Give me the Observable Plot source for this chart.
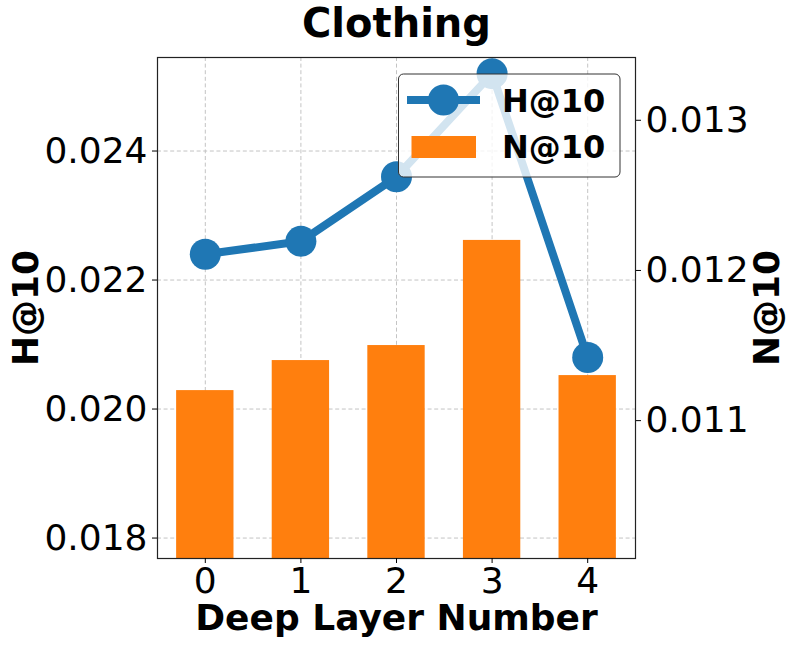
<!DOCTYPE html>
<html>
<head>
<meta charset="utf-8">
<script src="https://cdn.jsdelivr.net/npm/d3@7"></script>
<script src="https://cdn.jsdelivr.net/npm/@observablehq/plot@0.6"></script>
<style>
  body { margin: 0; background: white; }
  #wrap { position: relative; width: 793px; height: 647px; font-family: "DejaVu Sans", sans-serif; }
  #wrap > svg { position: absolute; left: 0; top: 0; }
</style>
</head>
<body>
<div id="wrap"></div>
<script>
// ---- data ----
const layers = [0, 1, 2, 3, 4];
const h10 = [0.0224, 0.0226, 0.0236, 0.0252, 0.0208];
const n10 = [0.0112, 0.0114, 0.0115, 0.0122, 0.0113];
const hTicks = [0.018, 0.020, 0.022, 0.024];
const nTicks = [0.011, 0.012, 0.013];
const title = "Clothing";
const xLabel = "Deep Layer Number";
const hLabel = "H@10";
const nLabel = "N@10";

const data = layers.map((l, i) => ({layer: l, h: h10[i], n: n10[i]}));

const blue = "#1f77b4", orange = "#ff7f0e";
const W = 793, H = 647;
const common = {
  width: W, height: H,
  marginLeft: 157, marginRight: 158, marginTop: 57, marginBottom: 89,
  x: {type: "linear", domain: [-0.5, 4.5], axis: null},
  style: {background: "transparent", fontFamily: "DejaVu Sans, sans-serif", overflow: "visible"}
};
const hDomain = [0.017683, 0.02545];
const nDomain = [0.010082, 0.013418];
const fmt = d3.format(".3f");

// Layer 1: grid
const grid = Plot.plot({
  ...common,
  y: {domain: hDomain, axis: null},
  marks: [
    Plot.ruleY(hTicks, {stroke: "#c4c4c4", strokeWidth: 1, strokeDasharray: "4,2.6"}),
    Plot.ruleX(layers, {stroke: "#c4c4c4", strokeWidth: 1, strokeDasharray: "4,2.6"})
  ]
});

// Layer 2: bars (N@10, right axis)
const bars = Plot.plot({
  ...common,
  y: {domain: nDomain, axis: null},
  marks: [
    Plot.rectY(data, {x1: d => d.layer - 0.3, x2: d => d.layer + 0.3, y: "n", fill: orange, clip: true}),
    Plot.axisY(nTicks, {anchor: "right", tickSize: 5, tickPadding: 5, tickFormat: fmt, fontSize: 36, label: null}),
    Plot.text([nLabel], {frameAnchor: "right", dx: 143, rotate: -90, textAnchor: "middle", lineAnchor: "bottom", fontSize: 36, fontWeight: "bold", fill: "black"})
  ]
});

// Layer 3: line (H@10, left axis), frame, texts
const lines = Plot.plot({
  ...common,
  y: {domain: hDomain, axis: null},
  marks: [
    Plot.line(data, {x: "layer", y: "h", stroke: blue, strokeWidth: 8}),
    Plot.dot(data, {x: "layer", y: "h", r: 15.5, fill: blue, stroke: "none"}),
    Plot.frame({stroke: "#222", strokeWidth: 1.2}),
    Plot.axisY(hTicks, {anchor: "left", tickSize: 5, tickPadding: 5, tickFormat: fmt, fontSize: 36, label: null}),
    Plot.axisX(layers, {anchor: "bottom", tickSize: 5, tickPadding: 4, tickFormat: d => String(d), fontSize: 36, label: null}),
    Plot.text([title], {frameAnchor: "top", dy: -21, lineAnchor: "bottom", fontSize: 40, fontWeight: "bold", fill: "black"}),
    Plot.text([xLabel], {frameAnchor: "bottom", dy: 71, lineAnchor: "bottom", fontSize: 36, fontWeight: "bold", fill: "black"}),
    Plot.text([hLabel], {frameAnchor: "left", dx: -120, rotate: -90, textAnchor: "middle", lineAnchor: "bottom", fontSize: 36, fontWeight: "bold", fill: "black"})
  ]
});

const wrap = document.getElementById("wrap");
wrap.appendChild(grid);
wrap.appendChild(bars);
wrap.appendChild(lines);

// Legend overlay
const leg = d3.create("svg").attr("width", W).attr("height", H)
  .style("font-family", "DejaVu Sans, sans-serif");
leg.append("rect").attr("x", 398.5).attr("y", 74).attr("width", 221.5).attr("height", 103)
  .attr("rx", 5).attr("fill", "white").attr("fill-opacity", 0.8)
  .attr("stroke", "#333").attr("stroke-width", 1);
leg.append("line").attr("x1", 407).attr("x2", 480).attr("y1", 100).attr("y2", 100)
  .attr("stroke", blue).attr("stroke-width", 8);
leg.append("circle").attr("cx", 443.5).attr("cy", 100).attr("r", 15.5).attr("fill", blue);
leg.append("rect").attr("x", 411.5).attr("y", 136).attr("width", 64.5).attr("height", 22).attr("fill", orange);
leg.append("text").attr("x", 502).attr("y", 111.5).attr("font-size", 32).attr("font-weight", "bold").text(hLabel);
leg.append("text").attr("x", 502).attr("y", 158).attr("font-size", 32).attr("font-weight", "bold").text(nLabel);
wrap.appendChild(leg.node());
</script>
</body>
</html>
